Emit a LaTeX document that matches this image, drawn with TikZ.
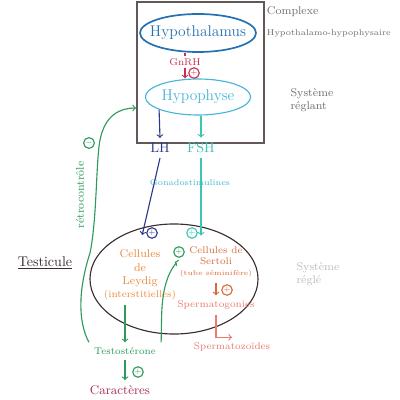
\documentclass[tikz,border=0pt]{standalone}
\usepackage{amsmath}
\usepackage{xcolor}
\usepackage{tikz}
\usetikzlibrary{shapes,arrows,positioning,calc}

\definecolor{hypoblue}{HTML}{2470B0}
\definecolor{pituitary}{HTML}{45B5DA}
\definecolor{gnrhred}{HTML}{C8304C}
\definecolor{lhnavy}{HTML}{2B3A8C}
\definecolor{fshteal}{HTML}{3CC4B4}
\definecolor{leydigorange}{HTML}{EC8A3C}
\definecolor{sertolirust}{HTML}{D9693A}
\definecolor{spermpink}{HTML}{EA7B6E}
\definecolor{feedgreen}{HTML}{2E9A5C}
\definecolor{traitred}{HTML}{A52F52}
\definecolor{pencil}{HTML}{6F6F6F}
\definecolor{faint}{HTML}{BDBDBD}
\definecolor{ink}{HTML}{3B2E2E}

\tikzset{
  plusmark/.style={circle,draw,inner sep=0.3pt,font=\tiny},
  glandtext/.style={font=\fontsize{11}{13}\selectfont},
}

\begin{document}
\begin{tikzpicture}[x=0.025cm,y=-0.025cm,thick]
    \useasboundingbox[fill=white] (0,0) rectangle (400,400);

    % Complexe hypothalamo-hypophysaire
    \node[draw=ink!80,minimum width=3.175cm,minimum height=3.525cm] (frame) at (200.5,72.5) {};
    \node[ellipse,draw=hypoblue,very thick,minimum width=2.9cm,minimum height=0.95cm] (hypothalamus) at (198,33) {};
    \node[glandtext,text=hypoblue] (hypothalamustext) at (hypothalamus) {Hypothalamus};
    \node[text=gnrhred,font=\scriptsize,inner sep=1pt] (gnrh) at (185,62) {GnRH};
    \node[ellipse,draw=pituitary,minimum width=2.63cm,minimum height=0.9cm] (hypophyse) at (198,97) {};
    \node[glandtext,text=pituitary] (hypophysetext) at (hypophyse) {Hypophyse};

    \draw[gnrhred] (hypothalamus.south -| gnrh) -- (gnrh.north);
    \draw[->,gnrhred] (gnrh.south) -- (hypophyse.north -| gnrh);
    \node[plusmark,draw=gnrhred,text=gnrhred] (gnrhplus) at (194,73) {$+$};

    % Gonadostimulines
    \node[text=lhnavy] (lh) at (160,148) {LH};
    \node[text=fshteal] (fsh) at (201,148) {FSH};
    \node[text=pituitary!60!fshteal,font=\fontsize{6}{7}\selectfont] (gonado) at (190,183) {Gonadostimulines};
    \draw[->,lhnavy] (hypophyse.198) -- (lh.north);
    \draw[->,fshteal] (hypophyse.south -| fsh) -- (fsh.north);

    % Testicule
    \node[ellipse,draw=ink,minimum width=4.2cm,minimum height=2.75cm] (testis) at (174,279) {};
    \node[text=ink] (testicule) at (45,263) {\underline{Testicule}};
    \node[align=center,text=leydigorange,font=\footnotesize] (leydig) at (140,275)
        {Cellules\\de\\Leydig\\{\scriptsize(interstitielles)}};
    \node[align=center,text=sertolirust,font=\scriptsize] (sertoli) at (216,262)
        {Cellules de\\Sertoli\\{\tiny(tube séminifère)}};
    \node[text=spermpink,font=\scriptsize] (spermatogonies) at (216,305) {Spermatogonies};
    \node[text=spermpink,font=\scriptsize] (spermatozoides) at (232,347) {Spermatozoïdes};
    \node[text=feedgreen,font=\scriptsize] (testo) at (125,351) {Testostérone};
    \node[text=traitred,font=\small] (caract) at (120,390) {Caractères};

    \draw[->,lhnavy,shorten >=7pt] (lh.south) -- (leydig.north);
    \node[plusmark,draw=lhnavy,text=lhnavy] (lhplus) at (152,233) {$+$};
    \draw[->,fshteal,shorten >=4pt] (fsh.south) -- (fsh.south |- sertoli.north);
    \node[plusmark,draw=fshteal,text=fshteal] (fshplus) at (192,233) {$+$};

    \draw[->,sertolirust] (sertoli.south) -- (spermatogonies.north);
    \node[plusmark,draw=sertolirust,text=sertolirust] (sertoliplus) at (227,290) {$+$};
    \draw[->,spermpink] (spermatogonies.south) |- (spermatozoides.north);

    \draw[->,feedgreen] (leydig.south -| testo) -- (testo.north);
    \draw[->,feedgreen] (testo.south) -- (testo.south |- caract.north);
    \node[plusmark,draw=feedgreen,text=feedgreen] (testoplus) at (138,372) {$+$};

    % Retrocontrole
    \coordinate (retroend) at (136,108);
    \draw[->,feedgreen] (testo.north west) .. controls (78,322) and (78,290) .. (90,253)
        .. controls (97,220) and (96,160) .. (100,140)
        .. controls (105,115) and (120,108) .. (retroend);
    \node[rotate=90,text=feedgreen,font=\footnotesize] (retro) at (80,195) {rétrocontrôle};
    \node[plusmark,draw=feedgreen,text=feedgreen] (retrominus) at (89,143) {$-$};

    \draw[->,feedgreen] (testo.north east) .. controls (162,325) and (160,300) .. (167,280)
        .. controls (172,265) and (178,263) .. (sertoli.west);
    \node[plusmark,draw=feedgreen,text=feedgreen] (sertolifb) at (179,252) {$+$};

    % Systemes
    \node[text=pencil,align=left,anchor=north west,inner sep=1pt] (complexe) at (265,5)
        {\footnotesize Complexe\\[3pt]\fontsize{6}{7}\selectfont Hypothalamo-hypophysaire};
    \node[text=pencil,align=left,font=\footnotesize] (reglant) at (312,100) {Système\\réglant};
    \node[text=faint,align=left,font=\footnotesize] (regle) at (318,274) {Système\\réglé};
\end{tikzpicture}
\end{document}
